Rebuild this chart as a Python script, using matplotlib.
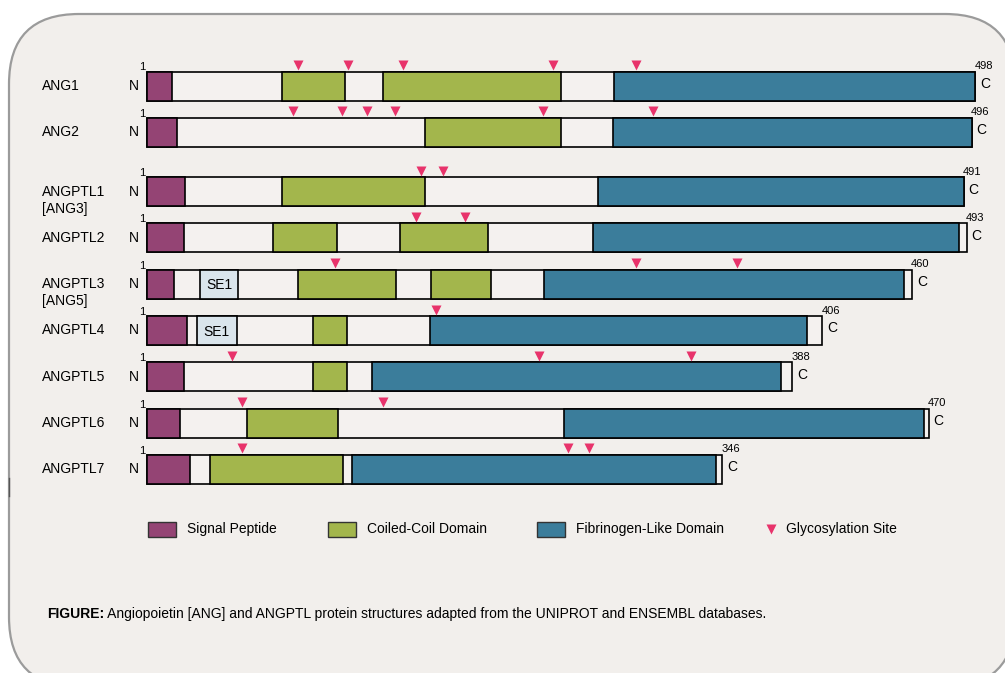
import matplotlib
matplotlib.use('Agg')
import matplotlib.pyplot as plt
from matplotlib.patches import FancyBboxPatch, Rectangle

plt.rcParams['font.family'] = ['Liberation Sans', 'DejaVu Sans']

# protein data (residue numbers)
names = ['ANG1', 'ANG2', 'ANGPTL1\n[ANG3]', 'ANGPTL2', 'ANGPTL3\n[ANG5]',
         'ANGPTL4', 'ANGPTL5', 'ANGPTL6', 'ANGPTL7']
lengths = [498, 496, 491, 493, 460, 406, 388, 470, 346]
signal = [15, 18, 23, 22, 16, 24, 22, 20, 26]
coiled = [[(81, 119), (142, 249)],
          [(167, 249)],
          [(81, 167)],
          [(76, 114), (152, 205)],
          [(91, 150), (171, 207)],
          [(100, 120)],
          [(100, 120)],
          [(60, 115)],
          [(38, 118)]]
fibrinogen = [(281, 498), (280, 496), (271, 491), (268, 488), (239, 455),
              (170, 397), (135, 381), (251, 467), (123, 342)]
se1 = [None, None, None, None, (32, 55), (30, 54), None, None, None]
glyco = [[91, 121, 154, 244, 294],
         [88, 117, 132, 149, 238, 304],
         [165, 178],
         [162, 191],
         [113, 294, 355],
         [174],
         [51, 236, 327],
         [57, 142],
         [57, 253, 266]]

legend_labels = ['Signal Peptide', 'Coiled-Coil Domain', 'Fibrinogen-Like Domain',
                 'Glycosylation Site']
caption_bold = 'FIGURE:'
caption_rest = (' Angiopoietin [ANG] and ANGPTL protein structures adapted from '
                'the UNIPROT and ENSEMBL databases.')

c_sig = '#944474'
c_cc = '#a3b64c'
c_fbg = '#3b7d9b'
c_se1 = '#dae5ec'
c_gly = '#e8336b'
c_bar = '#f4f1ef'

W, H = 1005, 673
fig = plt.figure(figsize=(W / 100, H / 100), dpi=100)
fig.patch.set_facecolor('white')

# background panel in pixel coordinates
bg = fig.add_axes([0, 0, 1, 1])
bg.set_xlim(0, W)
bg.set_ylim(H, 0)
bg.axis('off')
bg.add_patch(FancyBboxPatch((9, 14), 1006, 673,
                            boxstyle='round,pad=0,rounding_size=70',
                            fc='#f2efec', ec='#9b9b9b', lw=1.6))
bg.plot([8.5, 8.5], [478, 496], color='#555555', lw=1)

# protein axes: x in residues
ax = fig.add_axes([0, 0, 1, 1])
ax.patch.set_alpha(0)
ax.axis('off')
px = 1.663
x0 = 147
ax.set_xlim(-x0 / px, (W - x0) / px)
ax.set_ylim(H, 0)

bh = 29
kw = dict(height=bh, edgecolor='black', linewidth=1.2)

for i, name in enumerate(names):
    y = 86 + 46.3 * i + (13 if i >= 2 else 0)
    ax.barh(y, lengths[i], left=0, color=c_bar, **kw)
    ax.barh(y, signal[i], left=0, color=c_sig, **kw)
    for a, b in coiled[i]:
        ax.barh(y, b - a, left=a, color=c_cc, **kw)
    a, b = fibrinogen[i]
    ax.barh(y, b - a, left=a, color=c_fbg, **kw)
    if se1[i]:
        a, b = se1[i]
        ax.barh(y, b - a, left=a, color=c_se1, **kw)
        ax.text((a + b) / 2, y + 1, 'SE1', ha='center', va='center', fontsize=10)
    ax.plot(glyco[i], [y - 21] * len(glyco[i]), 'v', color=c_gly, ms=7.5, mec='none')

    ax.text(-1.2, y - 18.5, '1', ha='right', va='center', fontsize=8)
    ax.text(lengths[i] - 0.5, y - 20, str(lengths[i]), ha='left', va='center', fontsize=8)
    ax.annotate('C', (lengths[i], y - 2), xytext=(3.5, 0), textcoords='offset points',
                ha='left', va='center', fontsize=10)

    lines = name.split('\n')
    bg.text(42, y, lines[0], ha='left', va='center', fontsize=10)
    if len(lines) > 1:
        bg.text(42, y + 17, lines[1], ha='left', va='center', fontsize=10)
    bg.text(139, y, 'N', ha='right', va='center', fontsize=10)

# legend
leg_y = 529
for xs, col, lab in zip([148, 328, 537], [c_sig, c_cc, c_fbg], legend_labels[:3]):
    bg.add_patch(Rectangle((xs, leg_y - 7.5), 28, 15, fc=col, ec='#333333', lw=1))
    bg.text(xs + 39, leg_y, lab, ha='left', va='center', fontsize=10)
bg.plot(771, leg_y, 'v', color=c_gly, ms=7.5, mec='none')
bg.text(786, leg_y, legend_labels[3], ha='left', va='center', fontsize=10)

# caption
t1 = bg.text(47, 621, caption_bold, ha='left', va='bottom', fontsize=10,
             fontweight='bold')
bg.annotate(caption_rest, xy=(1, 0), xycoords=t1, ha='left', va='bottom',
            fontsize=10)

fig.savefig('out.png', dpi=100, facecolor=fig.get_facecolor())
